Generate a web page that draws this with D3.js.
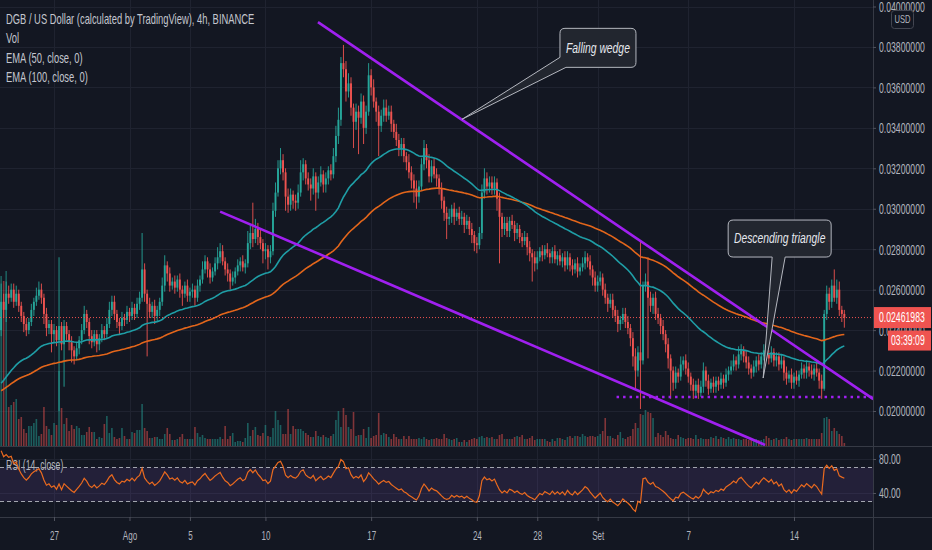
<!DOCTYPE html>
<html lang="en">
<head>
<meta charset="UTF-8">
<title>DGB / US Dollar, 4h</title>
<script src="https://d3js.org/d3.v7.min.js"></script>
<style>
  html, body { margin: 0; padding: 0; background: #131722; }
  svg { display: block; }
</style>
</head>
<body>
<div id="chart"></div>
<script>
// ---- data (prices in units of 0.00001 USD, one value per 4h candle, one day per row) ----
const firstCandle = Date.UTC(2020, 6, 23, 12);
const firstOpen = 2400;
const lastPrice = 0.02461983;
const closes = [
  2540, 2500, 2580,                     // Jul 23
  2560, 2600, 2540, 2580, 2520, 2470,   // Jul 24
  2430, 2400, 2440, 2500, 2540, 2570,   // Jul 25
  2600, 2560, 2480, 2410, 2430, 2380,   // Jul 26
  2400, 2350, 2420, 2330, 2420, 2380,   // Jul 27
  2340, 2300, 2270, 2310, 2350, 2400,   // Jul 28
  2480, 2440, 2370, 2340, 2380, 2330,   // Jul 29
  2360, 2400, 2380, 2430, 2500, 2540,   // Jul 30
  2480, 2440, 2420, 2460, 2450, 2490,   // Jul 31
  2470, 2510, 2480, 2530, 2560, 2700,   // Aug 1
  2580, 2530, 2490, 2520, 2470, 2500,   // Aug 2
  2540, 2620, 2720, 2680, 2620, 2640,   // Aug 3
  2610, 2650, 2600, 2580, 2620, 2570,   // Aug 4
  2590, 2600, 2560, 2620, 2650, 2700,   // Aug 5
  2740, 2700, 2660, 2690, 2730, 2760,   // Aug 6
  2790, 2740, 2700, 2680, 2640, 2660,   // Aug 7
  2690, 2720, 2740, 2710, 2730, 2830,   // Aug 8
  2880, 2850, 2900, 2860, 2830, 2790,   // Aug 9
  2800, 2760, 2790, 2990, 3080, 3200,   // Aug 10
  3240, 3180, 3060, 3020, 3070, 3040,   // Aug 11
  3030, 3080, 3180, 3220, 3150, 3120,   // Aug 12
  3100, 3160, 3080, 3130, 3170, 3120,   // Aug 13
  3150, 3190, 3170, 3260, 3360, 3440,   // Aug 14
  3720, 3690, 3580, 3620, 3500, 3430,   // Aug 15
  3480, 3450, 3530, 3400, 3480, 3660,   // Aug 16
  3600, 3530, 3480, 3410, 3460, 3500,   // Aug 17
  3460, 3480, 3420, 3380, 3340, 3300,   // Aug 18
  3320, 3260, 3230, 3180, 3140, 3100,   // Aug 19
  3060, 3110, 3220, 3300, 3240, 3160,   // Aug 20
  3210, 3170, 3150, 3100, 3040, 2980,   // Aug 21
  2950, 2960, 3000, 2960, 2980, 2950,   // Aug 22
  2960, 2920, 2940, 2900, 2870, 2830,   // Aug 23
  2820, 2880, 3080, 3150, 3110, 3130,   // Aug 24
  3100, 3130, 3050, 2960, 2900, 2930,   // Aug 25
  2890, 2940, 2920, 2880, 2900, 2860,   // Aug 26
  2840, 2860, 2810, 2780, 2760, 2730,   // Aug 27
  2760, 2790, 2770, 2800, 2780, 2760,   // Aug 28
  2790, 2750, 2770, 2740, 2760, 2720,   // Aug 29
  2760, 2720, 2700, 2730, 2690, 2710,   // Aug 30
  2730, 2760, 2740, 2700, 2660, 2620,   // Aug 31
  2640, 2660, 2600, 2560, 2530, 2550,   // Sep 1
  2500, 2470, 2430, 2450, 2480, 2440,   // Sep 2
  2410, 2360, 2270, 2200, 2290, 2250,   // Sep 3
  2620, 2640, 2560, 2520, 2560, 2480,   // Sep 4
  2460, 2420, 2380, 2330, 2260, 2200,   // Sep 5
  2140, 2190, 2170, 2230, 2250, 2210,   // Sep 6
  2170, 2130, 2100, 2130, 2090, 2120,   // Sep 7
  2200, 2150, 2110, 2140, 2120, 2150,   // Sep 8
  2130, 2160, 2140, 2180, 2200, 2220,   // Sep 9
  2250, 2230, 2280, 2300, 2270, 2240,   // Sep 10
  2210, 2190, 2220, 2250, 2230, 2270,   // Sep 11
  2300, 2280, 2260, 2290, 2250, 2270,   // Sep 12
  2230, 2250, 2190, 2160, 2180, 2140,   // Sep 13
  2170, 2150, 2180, 2210, 2190, 2220,   // Sep 14
  2200, 2180, 2210, 2190, 2150, 2110,   // Sep 15
  2480, 2580, 2540, 2620, 2560, 2600,   // Sep 16
  2500, 2480, 2461.983                  // Sep 17
];
// wick length above / below the body, same units
const wickUp = [
  90, 40, 60,
  40, 30, 30, 40, 20, 20,
  20, 30, 20, 30, 20, 40,
  40, 30, 20, 30, 20, 20,
  30, 20, 340, 20, 30, 20,
  20, 30, 20, 30, 20, 30,
  40, 20, 20, 30, 20, 20,
  20, 30, 20, 30, 40, 30,
  30, 20, 20, 30, 20, 30,
  20, 30, 20, 30, 30, 180,
  30, 20, 30, 20, 30, 20,
  20, 40, 50, 20, 30, 20,
  30, 20, 30, 20, 20, 30,
  20, 30, 20, 30, 20, 40,
  30, 20, 30, 20, 30, 50,
  40, 30, 20, 30, 20, 30,
  20, 30, 20, 30, 20, 60,
  40, 150, 50, 30, 40, 20,
  30, 20, 30, 40, 50, 40,
  60, 30, 20, 40, 30, 20,
  30, 40, 60, 30, 20, 30,
  30, 40, 20, 30, 40, 20,
  30, 20, 30, 40, 50, 60,
  30, 90, 40, 50, 30, 20,
  40, 30, 40, 30, 30, 60,
  30, 40, 20, 30, 30, 40,
  40, 30, 30, 20, 40, 30,
  30, 30, 20, 40, 30, 30,
  40, 30, 30, 40, 20, 30,
  30, 40, 30, 20, 30, 20,
  30, 40, 20, 30, 20, 30,
  30, 20, 30, 20, 30, 20,
  30, 30, 40, 50, 30, 30,
  30, 30, 20, 30, 20, 30,
  30, 20, 30, 20, 30, 20,
  20, 30, 20, 30, 20, 30,
  30, 20, 30, 20, 30, 20,
  20, 30, 20, 30, 20, 30,
  30, 20, 30, 20, 30, 20,
  30, 30, 20, 30, 20, 30,
  30, 30, 20, 30, 20, 30,
  30, 20, 30, 20, 30, 30,
  30, 20, 30, 40, 30, 550,
  20, 40, 120, 30, 20, 30,
  30, 20, 30, 20, 30, 20,
  20, 30, 20, 40, 20, 30,
  30, 20, 30, 20, 30, 30,
  40, 20, 30, 20, 30, 20,
  20, 30, 20, 30, 20, 30,
  30, 20, 40, 30, 20, 30,
  30, 20, 30, 20, 30, 20,
  30, 30, 20, 30, 20, 20,
  20, 30, 20, 30, 20, 30,
  20, 30, 20, 30, 20, 30,
  20, 30, 20, 30, 20, 30,
  20, 40, 30, 30, 80, 50,
  40, 20, 20
];
const wickDn = [
  30, 40, 60,
  30, 20, 30, 20, 30, 30,
  40, 30, 20, 20, 30, 20,
  20, 30, 50, 40, 30, 90,
  40, 30, 350, 30, 210, 30,
  40, 60, 40, 20, 30, 20,
  20, 30, 40, 30, 20, 40,
  30, 20, 30, 20, 20, 30,
  30, 30, 40, 20, 30, 20,
  30, 20, 30, 20, 30, 20,
  40, 260, 30, 30, 40, 30,
  30, 20, 30, 40, 30, 20,
  30, 20, 40, 60, 20, 30,
  30, 30, 40, 20, 30, 20,
  20, 40, 30, 20, 20, 30,
  30, 20, 30, 40, 40, 20,
  30, 20, 30, 20, 30, 20,
  30, 40, 20, 40, 30, 60,
  40, 60, 30, 20, 30, 20,
  30, 40, 70, 40, 30, 40,
  40, 30, 20, 40, 30, 30,
  60, 30, 90, 30, 20, 40,
  40, 30, 30, 20, 30, 40,
  30, 40, 50, 30, 40, 130,
  40, 180, 30, 80, 30, 20,
  40, 30, 50, 150, 30, 30,
  30, 20, 40, 30, 30, 40,
  40, 30, 40, 30, 40, 70,
  60, 30, 20, 30, 40, 30,
  30, 20, 40, 30, 40, 40,
  100, 30, 30, 40, 20, 30,
  30, 40, 20, 30, 40, 40,
  40, 20, 30, 30, 40, 30,
  30, 30, 60, 230, 40, 30,
  30, 30, 20, 40, 30, 30,
  30, 20, 40, 40, 120, 40,
  30, 20, 30, 20, 20, 30,
  30, 20, 30, 20, 30, 30,
  20, 30, 30, 20, 30, 20,
  20, 30, 30, 30, 40, 30,
  30, 20, 30, 30, 40, 20,
  40, 30, 40, 30, 20, 30,
  30, 40, 50, 90, 30, 240,
  20, 30, 300, 30, 40, 30,
  30, 40, 30, 40, 50, 140,
  40, 30, 30, 20, 30, 30,
  30, 30, 40, 30, 30, 20,
  30, 30, 30, 20, 30, 30,
  30, 20, 30, 20, 30, 20,
  20, 30, 20, 30, 30, 30,
  30, 30, 20, 30, 30, 20,
  20, 30, 30, 20, 30, 30,
  30, 20, 40, 30, 20, 30,
  30, 20, 30, 20, 30, 30,
  30, 20, 30, 20, 40, 50,
  10, 30, 40, 30, 20, 30,
  30, 40, 50
];
// volume, millions DGB
const volumes = [
  170, 165, 175, 39, 41, 44, 47, 27, 29, 17,
  13, 20, 20, 23, 27, 10, 12, 39, 20, 17,
  11, 23, 21, 75, 38, 22, 28, 15, 21, 17,
  20, 18, 11, 11, 14, 19, 14, 14, 7, 9,
  8, 22, 30, 13, 18, 9, 7, 8, 18, 10,
  7, 7, 14, 13, 16, 16, 42, 18, 15, 8,
  8, 9, 9, 7, 7, 12, 18, 12, 6, 6,
  7, 9, 12, 7, 7, 7, 7, 19, 13, 9,
  11, 8, 7, 7, 7, 7, 7, 9, 7, 20,
  7, 10, 13, 4, 5, 5, 4, 8, 23, 10,
  16, 19, 11, 10, 13, 21, 10, 9, 18, 35,
  26, 21, 12, 12, 37, 12, 20, 17, 17, 17,
  15, 13, 11, 9, 9, 15, 10, 9, 11, 9,
  8, 10, 12, 26, 35, 19, 38, 31, 19, 17,
  34, 10, 11, 11, 17, 8, 19, 8, 10, 11,
  33, 11, 13, 12, 9, 7, 12, 9, 7, 7,
  10, 7, 10, 7, 7, 7, 8, 7, 9, 7,
  6, 7,
  7, 8, 7, 7, 12, 8, 7, 6, 7, 8,
  4, 4, 6, 4, 6, 7, 8, 7, 9, 10,
  8, 9, 8, 9, 7, 7, 11, 12, 7, 7,
  7, 7, 9, 10, 9, 11, 7, 7, 8, 10,
  6, 7, 7, 7, 7, 5, 4, 7, 5, 8,
  8, 7, 6, 9, 10, 8, 10, 10, 9, 12,
  10, 9, 10, 10, 9, 10, 12, 15, 28, 10,
  10, 8, 7, 11, 14, 8, 7, 9, 10, 17,
  23, 18, 32, 31, 36, 34, 33, 28, 9, 13,
  11, 9, 15, 11, 8, 7, 7, 11, 9, 8,
  7, 8, 8, 7, 11, 7, 8, 7, 7, 7,
  9, 8, 10, 7, 9, 8, 7, 9, 7,
  8, 7, 7, 6, 7, 7, 6, 6, 7, 7,
  6, 6, 7, 10, 8, 6, 7, 8, 6, 7,
  7, 9, 7, 6, 7, 7, 7, 7, 7, 8,
  7, 7, 7, 7, 7, 13, 28, 29, 27, 15,
  18, 15, 12, 10, 3
];
const ema50Start = 0.02121;
const ema100Start = 0.02091;
const rsiSeedGain = 24, rsiSeedLoss = 4;

const priceTicks = [0.020, 0.022, 0.024, 0.026, 0.028, 0.030, 0.032, 0.034, 0.036, 0.038, 0.040];
const rsiTicks = [40, 80];
const tickDates = [
  Date.UTC(2020, 6, 27), Date.UTC(2020, 7, 1), Date.UTC(2020, 7, 5), Date.UTC(2020, 7, 10),
  Date.UTC(2020, 7, 17), Date.UTC(2020, 7, 24), Date.UTC(2020, 7, 28), Date.UTC(2020, 8, 1),
  Date.UTC(2020, 8, 7), Date.UTC(2020, 8, 14)
].map(d => new Date(d));
const tickLabels = ["27", "Ago", "5", "10", "17", "24", "28", "Set", "7", "14"];

const legendLines = ["DGB / US Dollar (calculated by TradingView), 4h, BINANCE", "Vol", "EMA (50, close, 0)", "EMA (100, close, 0)"];

// drawings: [time, price]
const trendLines = [
  [[Date.UTC(2020, 7, 13, 11, 30), 0.03923], [Date.UTC(2020, 8, 19, 6), 0.02059]],
  [[Date.UTC(2020, 7, 7, 0), 0.02986], [Date.UTC(2020, 8, 12, 2), 0.01832]]
];
const supportLine = [[Date.UTC(2020, 8, 2, 6), 0.02069], [Date.UTC(2020, 8, 19, 6), 0.02069]];
const calloutTexts = ["Falling wedge", "Descending triangle"];
const calloutTips = [[Date.UTC(2020, 7, 23, 0, 20), 0.03442], [Date.UTC(2020, 8, 11, 23), 0.02163]];

// ---- layout ----
const W = 932, H = 550;
const AXIS_X = 873, MAIN_BOTTOM = 446, RSI_BOTTOM = 517;
const FONT = '"Liberation Sans", Arial, sans-serif';
const SX = 0.62;
const U = 1e-5, H4 = 4 * 3600 * 1000;
const UP = "#26a69a", DOWN = "#ef5350";
const GRID = "#1f2330";

const x = d3.scaleUtc().domain([new Date(Date.UTC(2020, 6, 27)), new Date(Date.UTC(2020, 8, 14))]).range([54, 794]);
const y = d3.scaleLinear().domain([0.020, 0.040]).range([411, 6.5]);
const yVol = d3.scaleLinear().domain([0, 200]).range([MAIN_BOTTOM, MAIN_BOTTOM - 200]);
const yRsi = d3.scaleLinear().domain([30, 80]).range([501.5, 459]);

const n = Math.min(closes.length, wickUp.length, wickDn.length, volumes.length);
const candles = d3.range(n).map(i => {
  const o = i ? closes[i - 1] : firstOpen, c = closes[i];
  return {
    t: new Date(firstCandle + i * H4),
    o: o * U, c: c * U,
    h: (Math.max(o, c) + wickUp[i]) * U,
    l: (Math.min(o, c) - wickDn[i]) * U,
    v: volumes[i], up: c >= o
  };
});

// EMA and RSI from the closes
let e50 = ema50Start, e100 = ema100Start, ag = rsiSeedGain, al = rsiSeedLoss;
candles.forEach(d => {
  e50 += (2 / 51) * (d.c - e50);
  e100 += (2 / 101) * (d.c - e100);
  d.ema50 = e50; d.ema100 = e100;
  const ch = (d.c - d.o) / U;
  ag = (ag * 13 + Math.max(ch, 0)) / 14;
  al = (al * 13 + Math.max(-ch, 0)) / 14;
  d.rsi = 100 - 100 / (1 + ag / al);
});

const svg = d3.select("#chart").append("svg").attr("width", W).attr("height", H)
  .style("background", "#131722").attr("font-family", FONT);

function txt(g, px, py, s, o = {}) {
  return g.append("text")
    .attr("transform", `translate(${px},${py}) scale(${o.sx || SX},1)`)
    .attr("dy", "0.35em")
    .attr("text-anchor", o.anchor || "start")
    .attr("font-size", o.size || 14)
    .attr("font-style", o.italic ? "italic" : null)
    .attr("fill", o.color || "#b2b5be")
    .text(s);
}

const defs = svg.append("defs");
defs.append("clipPath").attr("id", "mainClip").append("rect").attr("width", AXIS_X).attr("height", MAIN_BOTTOM);
defs.append("clipPath").attr("id", "rsiClip").append("rect").attr("y", MAIN_BOTTOM).attr("width", AXIS_X).attr("height", RSI_BOTTOM - MAIN_BOTTOM);

// grid
const grid = svg.append("g").attr("stroke", GRID).attr("stroke-width", 1);
grid.selectAll(".gy").data(priceTicks).join("line")
  .attr("x1", 0).attr("x2", AXIS_X).attr("y1", d => Math.round(y(d)) + 0.5).attr("y2", d => Math.round(y(d)) + 0.5);
grid.selectAll(".gr").data(rsiTicks).join("line")
  .attr("x1", 0).attr("x2", AXIS_X).attr("y1", d => Math.round(yRsi(d)) + 0.5).attr("y2", d => Math.round(yRsi(d)) + 0.5);
grid.selectAll(".gx").data(tickDates).join("line")
  .attr("x1", d => Math.round(x(d)) + 0.5).attr("x2", d => Math.round(x(d)) + 0.5).attr("y1", 0).attr("y2", RSI_BOTTOM);

// legend
const legend = svg.append("g");
legendLines.forEach((s, i) => txt(legend, 6, 19 + i * 19.3, s, { color: "#c3c6ce", sx: 0.67 }));

// main pane
const main = svg.append("g").attr("clip-path", "url(#mainClip)");
main.selectAll(".vol").data(candles).join("rect")
  .attr("x", d => x(d.t) - 0.8).attr("width", 1.6)
  .attr("y", d => yVol(d.v)).attr("height", d => MAIN_BOTTOM - yVol(d.v))
  .attr("fill", d => d.up ? "rgba(38,166,154,0.5)" : "rgba(239,83,80,0.5)");

main.selectAll(".wick").data(candles).join("line")
  .attr("x1", d => x(d.t)).attr("x2", d => x(d.t))
  .attr("y1", d => y(d.h)).attr("y2", d => y(d.l))
  .attr("stroke", d => d.up ? UP : DOWN).attr("stroke-width", 0.9);
main.selectAll(".body").data(candles).join("rect")
  .attr("x", d => x(d.t) - 0.95).attr("width", 1.9)
  .attr("y", d => y(Math.max(d.o, d.c)))
  .attr("height", d => Math.max(1, Math.abs(y(d.o) - y(d.c))))
  .attr("fill", d => d.up ? UP : DOWN);

const lineFor = key => d3.line().x(d => x(d.t)).y(d => y(d[key]));
main.append("path").datum(candles).attr("d", lineFor("ema100"))
  .attr("fill", "none").attr("stroke", "#e3661b").attr("stroke-width", 1.6);
main.append("path").datum(candles).attr("d", lineFor("ema50"))
  .attr("fill", "none").attr("stroke", "#1f9ea6").attr("stroke-width", 1.6);

// last price line
main.append("line").attr("x1", 0).attr("x2", AXIS_X)
  .attr("y1", y(lastPrice)).attr("y2", y(lastPrice))
  .attr("stroke", DOWN).attr("stroke-width", 1).attr("stroke-dasharray", "1,2");

// drawings
const P = p => [x(new Date(p[0])), y(p[1])];
main.selectAll(".trend").data(trendLines).join("line")
  .attr("x1", d => P(d[0])[0]).attr("y1", d => P(d[0])[1])
  .attr("x2", d => P(d[1])[0]).attr("y2", d => P(d[1])[1])
  .attr("stroke", "#a020f0").attr("stroke-width", 2.6);
main.append("line")
  .attr("x1", P(supportLine[0])[0]).attr("y1", P(supportLine[0])[1])
  .attr("x2", P(supportLine[1])[0]).attr("y2", P(supportLine[1])[1])
  .attr("stroke", "#a020f0").attr("stroke-width", 2.6).attr("stroke-dasharray", "2.5,4");

// callouts: box offsets from the tip, and where the tail leaves the box
const calloutLayout = [
  { box: [98, -91, 174, -52], tail: "left" },
  { box: [-35, -158, 68, -121], tail: [9, 22] }
];
calloutTexts.forEach((s, i) => {
  const [tx, ty] = P(calloutTips[i]);
  const L = calloutLayout[i];
  const x0 = tx + L.box[0], y0 = ty + L.box[1], x1 = tx + L.box[2], y1 = ty + L.box[3], r = 5;
  let d;
  if (L.tail === "left") {
    d = `M${x0 + r},${y0} H${x1 - r} Q${x1},${y0} ${x1},${y0 + r} V${y1 - r} Q${x1},${y1} ${x1 - r},${y1}` +
        ` H${x0 + 6} L${tx},${ty} L${x0},${y1 - 10} V${y0 + r} Q${x0},${y0} ${x0 + r},${y0} Z`;
  } else {
    d = `M${x0 + r},${y0} H${x1 - r} Q${x1},${y0} ${x1},${y0 + r} V${y1 - r} Q${x1},${y1} ${x1 - r},${y1}` +
        ` H${tx + L.tail[1]} L${tx},${ty} L${tx + L.tail[0]},${y1} H${x0 + r} Q${x0},${y1} ${x0},${y1 - r} V${y0 + r} Q${x0},${y0} ${x0 + r},${y0} Z`;
  }
  svg.append("path").attr("d", d).attr("fill", "#22262f").attr("stroke", "#b4b7bf").attr("stroke-width", 1);
  txt(svg, (x0 + x1) / 2, (y0 + y1) / 2, s, { anchor: "middle", italic: true, color: "#e6e8ee", sx: 0.74 });
});

// RSI pane
const rsiG = svg.append("g").attr("clip-path", "url(#rsiClip)");
rsiG.append("rect").attr("x", 0).attr("width", AXIS_X)
  .attr("y", yRsi(70)).attr("height", yRsi(30) - yRsi(70)).attr("fill", "rgba(126,87,194,0.15)");
txt(rsiG, 6, 465, "RSI (14, close)", { color: "#b2b5be" });
[70, 30].forEach(v => rsiG.append("line").attr("x1", 0).attr("x2", AXIS_X)
  .attr("y1", yRsi(v)).attr("y2", yRsi(v))
  .attr("stroke", "#a3a6af").attr("stroke-width", 1).attr("stroke-dasharray", "4,3"));
rsiG.append("path").datum(candles)
  .attr("d", d3.line().x(d => x(d.t)).y(d => yRsi(d.rsi)))
  .attr("fill", "none").attr("stroke", "#ea6a1f").attr("stroke-width", 1.2);

// pane borders
svg.append("line").attr("x1", 0).attr("x2", W).attr("y1", MAIN_BOTTOM + 0.5).attr("y2", MAIN_BOTTOM + 0.5).attr("stroke", "#363a45");
svg.append("line").attr("x1", 0).attr("x2", W).attr("y1", RSI_BOTTOM + 0.5).attr("y2", RSI_BOTTOM + 0.5).attr("stroke", "#363a45");
svg.append("line").attr("x1", AXIS_X + 0.5).attr("x2", AXIS_X + 0.5).attr("y1", 0).attr("y2", H).attr("stroke", "#363a45");

// axes
function styleAxis(g, dx, dy, anchor) {
  g.attr("font-family", FONT).attr("font-size", 14);
  g.select(".domain").remove();
  g.selectAll(".tick line").attr("stroke", "#50535e");
  g.selectAll(".tick text").attr("x", null).attr("y", null).attr("dy", "0.35em")
    .attr("fill", "#b2b5be").attr("text-anchor", anchor)
    .attr("transform", `translate(${dx},${dy}) scale(${SX},1)`);
}
const gy = svg.append("g").attr("transform", `translate(${AXIS_X},0)`)
  .call(d3.axisRight(y).tickValues(priceTicks).tickFormat(d3.format(".8f")).tickSize(3));
styleAxis(gy, 6, 0, "start");
const gr = svg.append("g").attr("transform", `translate(${AXIS_X},0)`)
  .call(d3.axisRight(yRsi).tickValues(rsiTicks).tickFormat(d3.format(".2f")).tickSize(3));
styleAxis(gr, 6, 0, "start");
const gx = svg.append("g").attr("transform", `translate(0,${RSI_BOTTOM})`)
  .call(d3.axisBottom(x).tickValues(tickDates).tickFormat((d, i) => tickLabels[i]).tickSize(4));
styleAxis(gx, 0, 18, "middle");
gx.attr("font-size", 13);

// USD box
svg.append("rect").attr("x", 891.5).attr("y", 10.5).attr("width", 22).attr("height", 18).attr("rx", 3)
  .attr("fill", "#131722").attr("stroke", "#434651");
txt(svg, 902.5, 19.5, "USD", { anchor: "middle", size: 10.5, sx: 0.72 });

// last price + countdown badges
const ly = y(lastPrice);
svg.append("rect").attr("x", AXIS_X + 1).attr("y", ly - 10.5).attr("width", W - AXIS_X - 2).attr("height", 21).attr("fill", DOWN);
txt(svg, 879, ly, d3.format(".8f")(lastPrice), { color: "#ffffff" });
svg.append("rect").attr("x", 888).attr("y", ly + 13).attr("width", 43).attr("height", 20).attr("fill", DOWN);
txt(svg, 891, ly + 23, "03:39:09", { color: "#ffffff" });
</script>
</body>
</html>
